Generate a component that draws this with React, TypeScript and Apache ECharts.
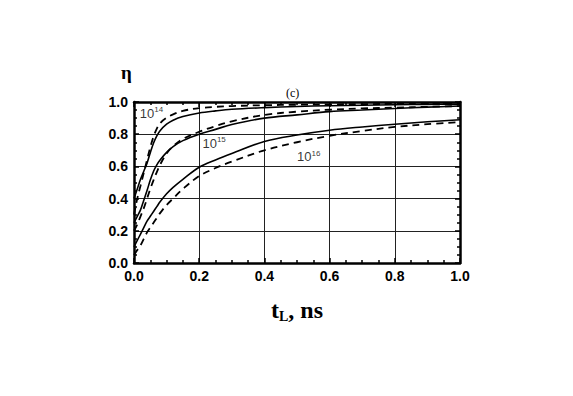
import React, { useEffect, useRef } from "react";
import * as echarts from "echarts";

const xs = [0, 0.01, 0.02, 0.03, 0.04, 0.05, 0.06, 0.07, 0.08, 0.1, 0.12, 0.15, 0.2, 0.25, 0.3, 0.4, 0.5, 0.6, 0.7, 0.8, 0.9, 1.0];
const solid14 = [0.40, 0.46, 0.52, 0.57, 0.62, 0.685, 0.745, 0.79, 0.822, 0.862, 0.887, 0.91, 0.932, 0.945, 0.955, 0.965, 0.972, 0.977, 0.98, 0.983, 0.985, 0.987];
const dashed14 = [0.30, 0.40, 0.48, 0.56, 0.64, 0.72, 0.785, 0.835, 0.868, 0.902, 0.923, 0.945, 0.962, 0.97, 0.975, 0.98, 0.983, 0.985, 0.987, 0.988, 0.989, 0.99];
const solid15 = [0.25, 0.29, 0.33, 0.39, 0.45, 0.515, 0.57, 0.61, 0.64, 0.687, 0.723, 0.76, 0.80, 0.83, 0.86, 0.90, 0.92, 0.94, 0.95, 0.96, 0.968, 0.975];
const dashed15 = [0.20, 0.24, 0.29, 0.34, 0.40, 0.46, 0.515, 0.565, 0.61, 0.68, 0.725, 0.77, 0.815, 0.85, 0.88, 0.92, 0.94, 0.952, 0.96, 0.965, 0.97, 0.975];
const solid16 = [0.10, 0.14, 0.18, 0.22, 0.26, 0.29, 0.32, 0.35, 0.38, 0.43, 0.47, 0.52, 0.595, 0.64, 0.68, 0.755, 0.795, 0.825, 0.845, 0.862, 0.877, 0.89];
const dashed16 = [0.05, 0.08, 0.11, 0.15, 0.19, 0.22, 0.25, 0.28, 0.31, 0.36, 0.40, 0.46, 0.54, 0.59, 0.63, 0.70, 0.75, 0.79, 0.82, 0.845, 0.862, 0.875];

const curveLabels = [
  { exp: "14", x: 0.018, y: 0.93 },
  { exp: "15", x: 0.21, y: 0.745 },
  { exp: "16", x: 0.5, y: 0.66 },
];

const pair = (ys: number[]) => xs.map((x, i) => [x, ys[i]]);

export default function App() {
  const ref = useRef<HTMLDivElement>(null);
  useEffect(() => {
    if (!ref.current) return;
    const chart = echarts.init(ref.current, null, { renderer: "svg" });
    const tickLabel = {
      fontFamily: "Liberation Sans, Arial, sans-serif",
      fontWeight: "bold" as const,
      fontSize: 14,
      color: "#000",
    };
    const common = {
      min: 0,
      max: 1,
      interval: 0.2,
      axisLine: { show: true, onZero: false, lineStyle: { color: "#000", width: 2.5 } },
      axisTick: { show: true, inside: true, length: 5, lineStyle: { color: "#000", width: 1.5 } },
      minorTick: { show: true, splitNumber: 4, length: 3, lineStyle: { color: "#000", width: 1.5 } },
    };
    const solidStyle = { color: "#000", width: 1.6, type: "solid" as const };
    const dashedStyle = { color: "#000", width: 1.8, type: [7, 5] as any };
    const mk = (ys: number[], dashed: boolean) => ({
      type: "line",
      data: pair(ys),
      smooth: 0.35,
      showSymbol: false,
      symbol: "none",
      color: "#000",
      lineStyle: dashed ? dashedStyle : solidStyle,
      z: 3,
    });
    const serif = "Liberation Serif, Times New Roman, serif";
    chart.setOption({
      animation: false,
      grid: { left: 134, top: 102, width: 326, height: 161, show: false },
      xAxis: [
        {
          type: "value",
          ...common,
          position: "bottom",
          axisLabel: { ...tickLabel, margin: 6, formatter: (v: number) => v.toFixed(1) },
          splitLine: { show: true, lineStyle: { color: "#222", width: 1 } },
          name: "{t|t}{sub|L}{t|, ns}",
          nameLocation: "middle",
          nameGap: 34,
          nameTextStyle: {
            rich: {
              t: { fontFamily: serif, fontWeight: "bold", fontSize: 24, color: "#000" },
              sub: { fontFamily: serif, fontWeight: "bold", fontSize: 14, color: "#000", verticalAlign: "bottom", padding: [12, 0, 0, 0] },
            },
          },
        },
        {
          type: "value",
          ...common,
          position: "top",
          axisLabel: { show: false },
          splitLine: { show: false },
        },
      ],
      yAxis: [
        {
          type: "value",
          ...common,
          position: "left",
          axisLabel: { ...tickLabel, margin: 6, formatter: (v: number) => v.toFixed(1) },
          splitLine: { show: true, lineStyle: { color: "#222", width: 1 } },
        },
        {
          type: "value",
          ...common,
          position: "right",
          axisLabel: { show: false },
          splitLine: { show: false },
        },
      ],
      series: [
        mk(solid14, false),
        mk(dashed14, true),
        mk(solid15, false),
        mk(dashed15, true),
        mk(solid16, false),
        mk(dashed16, true),
        {
          type: "scatter",
          data: curveLabels.map((l) => [l.x, l.y, l.exp]),
          symbolSize: 0,
          silent: true,
          color: "#000",
          z: 5,
          label: {
            show: true,
            position: "right",
            distance: 0,
            color: "#000",
            formatter: (p: any) => `{b|10}{s|${p.data[2]}}`,
            rich: {
              b: { fontFamily: "Liberation Sans, Arial, sans-serif", fontSize: 13, color: "#000" },
              s: { fontFamily: "Liberation Sans, Arial, sans-serif", fontSize: 8, color: "#000", verticalAlign: "top", padding: [0, 0, 7, 0] },
            },
          },
        },
      ],
      graphic: [
        {
          type: "text",
          left: 121,
          top: 63,
          style: { text: "η", font: "bold 19px 'Liberation Serif', 'Times New Roman', serif", fill: "#000" },
        },
        {
          type: "text",
          left: 286,
          top: 87,
          style: { text: "(c)", font: "12px 'Liberation Serif', 'Times New Roman', serif", fill: "#000" },
        },
      ],
    });
    return () => chart.dispose();
  }, []);
  return <div ref={ref} style={{ width: 573, height: 396, position: "absolute", left: 0, top: 0, background: "#fff" }} />;
}
